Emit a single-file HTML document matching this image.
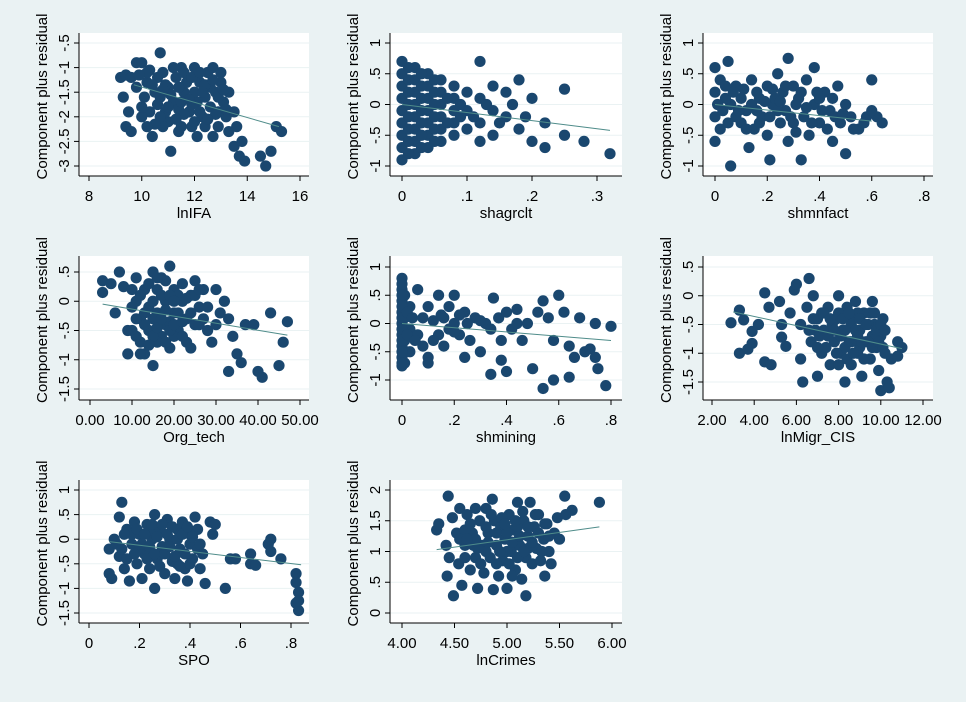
<!DOCTYPE html>
<html><head><meta charset="utf-8"><style>
html,body{margin:0;padding:0;background:#eaf2f3;}
svg{display:block;font-family:"Liberation Sans",Arial,sans-serif;}
</style></head><body>
<svg id="chart" width="966" height="702" viewBox="0 0 966 702" xmlns="http://www.w3.org/2000/svg">
<rect x="0" y="0" width="966" height="702" fill="#eaf2f3"/>
</svg>
<script>
// ---- data ----
const lnIFAPts=[[9.2,-1.2],[9.4,-1.15],[9.3,-1.6],[9.4,-2.2],[9.6,-2.3],[9.8,-0.9],[10.0,-0.9],[10.7,-0.7],[10.2,-1.3],[10.5,-1.5],[10.3,-1.9],[10.4,-2.4],[10.8,-1.1],[11.0,-1.4],[11.2,-1.7],[11.0,-2.1],[11.1,-2.7],[11.5,-1.0],[11.6,-1.5],[11.8,-1.9],[11.5,-2.2],[12.0,-1.0],[12.2,-1.3],[12.1,-1.7],[12.3,-2.0],[12.1,-2.4],[12.5,-1.1],[12.7,-1.0],[12.8,-1.5],[12.6,-1.8],[12.9,-2.2],[13.0,-1.3],[13.1,-1.7],[13.2,-2.0],[13.5,-1.9],[13.6,-2.2],[13.5,-2.6],[13.8,-2.5],[13.7,-2.8],[13.9,-2.9],[14.5,-2.8],[14.7,-3.0],[14.9,-2.7],[15.1,-2.2],[15.3,-2.3],[10.6,-1.2],[11.3,-1.2],[11.9,-2.2],[12.4,-1.6],[10.1,-1.6],[10.9,-1.9],[11.7,-1.3],[12.9,-1.9],[10.3,-1.05],[10.6,-1.75],[11.4,-1.85],[12.0,-1.5],[12.6,-1.4],[11.2,-1.0],[10.0,-2.0],[9.5,-1.9],[13.3,-1.5],[11.8,-1.65],[12.4,-2.2],[10.8,-2.2],
[10.2,-1.1],[10.4,-1.35],[10.7,-1.6],[10.9,-1.35],[11.1,-1.55],[11.4,-1.4],[11.6,-1.1],[11.9,-1.2],[12.2,-1.1],[12.4,-1.35],[12.7,-1.25],[12.9,-1.6],[13.1,-1.45],[13.2,-1.85],[12.8,-1.95],[12.5,-2.05],[12.2,-1.9],[11.9,-1.75],[11.6,-1.95],[11.3,-2.05],[11.0,-1.8],[10.7,-2.0],[10.5,-2.15],[10.2,-2.2],[10.0,-1.8],[9.8,-1.4],[9.6,-1.2],[11.4,-2.3],[12.7,-2.4],[13.3,-2.3],[12.0,-2.1],[10.8,-1.45],[11.5,-1.7],[12.3,-1.5],[13.0,-1.1],[9.9,-1.15]];
const shagrcltPts=[[0,0.7],[0,0.5],[0,0.3],[0,0.1],[0,-0.1],[0,-0.3],[0,-0.5],[0,-0.7],[0,-0.9],[0.02,0.6],[0.02,0.4],[0.02,0.2],[0.02,0],[0.02,-0.2],[0.02,-0.4],[0.02,-0.6],[0.02,-0.8],[0.04,0.5],[0.04,0.3],[0.04,0.1],[0.04,-0.1],[0.04,-0.3],[0.04,-0.5],[0.04,-0.7],[0.06,0.4],[0.06,0.2],[0.06,0],[0.06,-0.2],[0.06,-0.4],[0.06,-0.6],[0.08,0.3],[0.08,0.1],[0.08,-0.1],[0.08,-0.3],[0.08,-0.5],[0.1,0.2],[0.1,-0.1],[0.1,-0.4],[0.12,0.7],[0.12,0.1],[0.12,-0.3],[0.12,-0.6],[0.14,0.3],[0.14,-0.1],[0.14,-0.5],[0.16,0.2],[0.16,-0.2],[0.18,0.4],[0.18,-0.4],[0.2,0.1],[0.2,-0.6],[0.22,-0.3],[0.22,-0.7],[0.25,0.25],[0.25,-0.5],[0.28,-0.6],[0.32,-0.8],
[0.01,0.6],[0.01,0.4],[0.01,0.2],[0.01,0],[0.01,-0.2],[0.01,-0.4],[0.01,-0.6],[0.01,-0.8],[0.03,0.5],[0.03,0.3],[0.03,0.1],[0.03,-0.1],[0.03,-0.3],[0.03,-0.5],[0.03,-0.7],[0.05,0.4],[0.05,0.2],[0.05,0],[0.05,-0.2],[0.05,-0.4],[0.05,-0.6],[0.07,0.1],[0.07,-0.3],[0.09,0],[0.09,-0.2],[0.11,-0.2],[0.13,0],[0.15,-0.3],[0.17,0],[0.19,-0.2]];
const shmnfactPts=[[0,0.6],[0,0.2],[0,-0.2],[0,-0.6],[0.02,0.4],[0.02,-0.4],[0.05,0.7],[0.06,0],[0.06,-1],[0.08,0.3],[0.1,-0.3],[0.1,0.1],[0.12,-0.1],[0.13,-0.7],[0.14,0.4],[0.15,-0.4],[0.17,0.1],[0.18,-0.2],[0.2,0.3],[0.2,-0.5],[0.21,-0.9],[0.22,0],[0.24,0.5],[0.25,-0.3],[0.26,0.2],[0.27,-0.1],[0.28,-0.6],[0.3,0.3],[0.3,-0.3],[0.32,0.1],[0.33,-0.9],[0.34,-0.2],[0.35,0.4],[0.36,-0.5],[0.38,0],[0.38,0.6],[0.4,-0.3],[0.42,0.2],[0.44,-0.1],[0.45,-0.6],[0.47,0.3],[0.48,-0.3],[0.5,-0.8],[0.5,0],[0.52,-0.2],[0.55,-0.4],[0.58,-0.2],[0.6,0.4],[0.62,-0.2],[0.64,-0.3],[0.28,0.75],[0.04,0.1],[0.08,-0.2],[0.16,-0.1],[0.23,0.1],[0.31,0],[0.4,0.1],[0.46,-0.2],
[0.01,0],[0.03,-0.1],[0.04,0.3],[0.05,-0.3],[0.07,0.2],[0.09,-0.1],[0.11,0.25],[0.12,-0.4],[0.14,0],[0.16,0.2],[0.17,-0.3],[0.19,0.05],[0.21,-0.2],[0.22,0.25],[0.24,-0.1],[0.25,0.05],[0.27,0.3],[0.29,-0.2],[0.31,-0.45],[0.33,0.2],[0.35,-0.05],[0.37,-0.3],[0.39,0.2],[0.41,-0.1],[0.43,-0.4],[0.45,0.1],[0.49,-0.15],[0.53,-0.4],[0.57,-0.3],[0.6,-0.1]];
const orgTechPts=[[3,0.35],[3,0.15],[5,0.3],[7,0.5],[8,0.25],[6,-0.2],[9,-0.5],[9,-0.9],[11,0.4],[11,0],[12,-0.3],[12,-0.7],[13,0.2],[14,-0.1],[14,-0.5],[15,0.5],[15,-1.1],[16,0.2],[16,-0.2],[17,-0.6],[17,0.4],[18,0],[18,-0.4],[19,0.6],[19,-0.8],[20,0.2],[20,-0.2],[21,-0.5],[22,0.3],[22,0],[23,-0.3],[23,-0.7],[24,0.1],[25,0.35],[25,-0.4],[26,-0.1],[27,0.2],[28,-0.5],[29,-0.7],[30,0.2],[31,-0.2],[32,0],[33,-0.3],[33,-1.2],[34,-0.6],[35,-0.9],[36,-1.05],[37,-0.4],[39,-0.4],[40,-1.2],[41,-1.3],[43,-0.2],[45,-1.1],[46,-0.7],[47,-0.35],[10,-0.1],[13,-0.9],[21,0.1],[24,-0.8],[15,-0.3],[17,0.1],[19,-0.35],[13,-0.4],[16,-0.7],[20,-0.6],[26,-0.4],[18,0.35],
[10,0.2],[10,-0.5],[11,-0.3],[12,0.1],[13,-0.2],[14,0.3],[15,0],[15,-0.6],[16,-0.45],[17,-0.3],[18,-0.15],[18,-0.7],[19,0.1],[19,-0.5],[20,0],[20,-0.4],[21,-0.2],[22,-0.35],[22,-0.6],[23,0.05],[24,-0.2],[25,0.1],[26,0.2],[27,-0.3],[28,-0.1],[12,-0.9],[14,-0.75],[16,0.4],[11,-0.6],[30,-0.4]];
const shminingPts=[[0,0.8],[0,0.6],[0,0.4],[0,0.2],[0,0],[0,-0.2],[0,-0.4],[0,-0.6],[0,-0.75],[0.01,0.5],[0.01,0.1],[0.01,-0.3],[0.01,-0.7],[0.03,0.3],[0.03,-0.1],[0.03,-0.5],[0.06,0.6],[0.06,-0.2],[0.08,0.1],[0.08,-0.4],[0.1,-0.6],[0.1,-0.7],[0.1,0.3],[0.12,0.05],[0.14,0.5],[0.14,-0.2],[0.16,0.1],[0.16,-0.4],[0.18,0.3],[0.18,-0.1],[0.2,0.5],[0.2,0],[0.22,-0.2],[0.24,0.2],[0.24,-0.6],[0.26,-0.3],[0.28,0.1],[0.3,-0.5],[0.32,0],[0.34,-0.9],[0.35,0.45],[0.37,0.1],[0.38,-0.3],[0.38,-0.65],[0.4,0.2],[0.4,-0.85],[0.42,-0.1],[0.44,0.25],[0.46,-0.3],[0.48,0],[0.5,-0.8],[0.52,0.2],[0.54,-1.15],[0.54,0.4],[0.56,0.1],[0.58,-0.3],[0.58,-1.0],[0.6,0.5],[0.62,0.2],[0.64,-0.4],[0.64,-0.95],[0.66,-0.6],[0.68,0.1],[0.7,-0.5],[0.72,-0.45],[0.74,-0.6],[0.74,0],[0.75,-0.8],[0.78,-1.1],[0.8,-0.05],
[0,0.7],[0,0.5],[0,0.3],[0,0.1],[0,-0.1],[0,-0.3],[0,-0.5],[0,-0.7],[0.02,0.2],[0.02,-0.2],[0.04,0.1],[0.05,-0.3],[0.12,-0.3],[0.15,0.15],[0.2,-0.15],[0.22,0.15],[0.25,0],[0.3,0.05],[0.34,-0.1],[0.44,0]];
const lnMigrPts=[[2.9,-0.47],[3.3,-0.25],[3.3,-1],[3.5,-0.42],[3.7,-0.93],[3.9,-0.62],[3.9,-0.83],[4.2,-0.5],[4.5,0.05],[4.5,-1.15],[4.7,-0.2],[4.8,-1.2],[5.2,-0.1],[5.3,-0.5],[5.3,-0.72],[5.5,-0.88],[5.7,-0.3],[5.9,0.1],[6,0.2],[6.2,-0.5],[6.2,-1.1],[6.3,-1.5],[6.5,-0.2],[6.6,0.3],[6.7,-0.8],[6.8,0],[7,-0.4],[7,-1.4],[7.2,-1.0],[7.3,-0.6],[7.5,-0.2],[7.6,-1.2],[7.8,-0.8],[7.9,-0.4],[8,0],[8.1,-1.0],[8.2,-0.6],[8.3,-1.5],[8.4,-0.2],[8.5,-0.8],[8.6,-1.2],[8.7,-0.4],[8.8,-0.1],[8.9,-1.0],[9,-0.6],[9.1,-1.4],[9.2,-0.3],[9.3,-0.8],[9.5,-1.1],[9.6,-0.1],[9.7,-0.5],[9.8,-0.9],[9.9,-1.3],[10,-1.65],[10,-0.7],[10.2,-1.0],[10.3,-1.5],[10.4,-1.6],[10.5,-1.1],[10.8,-0.8],[10.8,-1.05],[11,-0.9],[7.4,-0.9],[8.6,-0.5],[9.4,-0.5],[7.7,-0.5],[8.0,-1.2],[6.9,-0.6],[8.3,-0.9],[9.0,-0.9],[9.6,-0.7],[7.2,-0.3],[8.9,-0.3],[10.1,-0.4],
[7.1,-0.7],[7.3,-0.3],[7.5,-0.7],[7.6,-0.4],[7.8,-0.6],[7.9,-1.0],[8.0,-0.3],[8.1,-0.7],[8.2,-0.4],[8.3,-0.6],[8.4,-1.1],[8.5,-0.3],[8.6,-0.8],[8.7,-1.0],[8.8,-0.6],[8.9,-0.7],[9.0,-0.4],[9.1,-0.8],[9.2,-1.1],[9.3,-0.5],[9.4,-0.8],[9.5,-0.3],[9.6,-0.9],[9.7,-0.3],[9.8,-0.6],[9.9,-0.8],[10.0,-0.5],[10.1,-0.9],[10.2,-0.6],[6.8,-0.4],[6.6,-0.6],[7.0,-0.9]];
const spoPts=[[0.08,-0.2],[0.08,-0.7],[0.09,-0.8],[0.1,0],[0.12,-0.35],[0.13,0.75],[0.12,0.45],[0.14,-0.6],[0.15,0.2],[0.16,-0.85],[0.17,-0.1],[0.18,0.35],[0.19,-0.5],[0.2,0.1],[0.21,-0.8],[0.22,-0.3],[0.23,0.3],[0.24,-0.6],[0.25,0],[0.26,0.5],[0.26,-1],[0.27,-0.4],[0.28,0.2],[0.29,-0.15],[0.3,-0.7],[0.31,0.4],[0.32,0],[0.33,-0.45],[0.34,-0.8],[0.35,0.2],[0.36,-0.2],[0.37,0.35],[0.38,-0.6],[0.39,-0.85],[0.4,-0.1],[0.41,-0.4],[0.42,0.45],[0.43,0.2],[0.44,-0.6],[0.45,-0.3],[0.46,-0.9],[0.48,0.35],[0.49,0.1],[0.5,0.3],[0.54,-1],[0.56,-0.4],[0.58,-0.4],[0.64,-0.3],[0.64,-0.5],[0.66,-0.53],[0.71,-0.1],[0.72,-0.25],[0.72,0],[0.76,-0.4],[0.82,-0.7],[0.82,-0.88],[0.83,-1.08],[0.82,-1.3],[0.83,-1.45],[0.83,-1.25],[0.2,-0.2],[0.28,-0.3],[0.35,-0.5],[0.24,0.15],[0.4,0.1],
[0.11,-0.1],[0.13,-0.2],[0.15,-0.4],[0.17,0.1],[0.18,-0.3],[0.19,0.2],[0.21,-0.1],[0.22,0.1],[0.23,-0.4],[0.24,-0.15],[0.25,0.3],[0.26,-0.3],[0.27,0.05],[0.28,-0.55],[0.29,0.3],[0.3,-0.3],[0.31,0.1],[0.32,-0.15],[0.33,0.25],[0.34,-0.35],[0.35,0],[0.36,-0.55],[0.37,0.1],[0.38,-0.3],[0.39,0.25],[0.4,-0.5],[0.41,0.05],[0.43,-0.2],[0.44,-0.1],[0.14,0.1]];
const lnCrimesPts=[[4.33,1.35],[4.35,1.45],[4.42,1.1],[4.43,0.6],[4.44,1.9],[4.45,0.9],[4.48,1.55],[4.49,0.28],[4.52,1.3],[4.54,0.8],[4.55,1.7],[4.57,0.45],[4.6,1.1],[4.62,1.6],[4.65,0.7],[4.67,1.3],[4.7,0.9],[4.72,0.4],[4.74,1.5],[4.76,1.1],[4.78,0.65],[4.8,1.7],[4.82,1.3],[4.84,0.9],[4.86,1.85],[4.87,0.38],[4.88,1.5],[4.9,1.1],[4.92,0.6],[4.94,1.4],[4.96,0.85],[4.98,1.2],[5.0,0.4],[5.02,1.6],[5.04,1.0],[5.06,1.35],[5.08,0.7],[5.1,1.8],[5.12,1.1],[5.14,0.55],[5.16,1.5],[5.18,0.28],[5.18,0.9],[5.2,1.25],[5.22,1.8],[5.24,0.8],[5.26,1.4],[5.28,1.05],[5.3,1.6],[5.32,0.85],[5.35,1.2],[5.36,0.6],[5.38,1.45],[5.4,1.0],[5.42,0.8],[5.45,1.3],[5.48,1.55],[5.5,1.2],[5.55,1.9],[5.56,1.6],[5.62,1.67],[5.88,1.8],[4.7,1.7],[5.0,1.0],[4.9,0.8],[5.1,1.4],[4.6,1.35],[4.8,1.0],[5.2,1.05],[4.68,1.1],
[4.55,1.2],[4.6,0.9],[4.65,1.45],[4.7,1.2],[4.75,0.8],[4.8,1.4],[4.82,1.15],[4.85,1.6],[4.9,1.3],[4.93,1.0],[4.95,1.55],[5.0,1.3],[5.02,0.8],[5.05,1.15],[5.08,1.5],[5.1,0.9],[5.12,1.25],[5.15,1.65],[5.16,1.0],[5.2,1.4],[5.24,1.15],[5.27,1.6],[5.3,1.3],[5.33,1.0],[5.36,1.45],[5.4,1.25],[4.62,1.2],[4.72,1.05],[4.98,1.45],[5.05,0.6]];
// fitted lines [x0,y0,x1,y1]
const lnIFAFit=[9.7,-1.35,15.2,-2.2];
const shagrcltFit=[0,0,0.32,-0.42];
const shmnfactFit=[0,0,0.6,-0.27];
const orgTechFit=[3,-0.05,47,-0.58];
const shminingFit=[0,0,0.8,-0.3];
const lnMigrFit=[3,-0.28,11,-0.92];
const spoFit=[0.08,-0.05,0.84,-0.52];
const lnCrimesFit=[4.33,1.03,5.88,1.4];
// tick labels
const lnIFAXTicks=["8","10","12","14","16"], lnIFAYTicks=["-3","-2.5","-2","-1.5","-1","-.5"];
const shagrcltXTicks=["0",".1",".2",".3"], shagrcltYTicks=["-1","-.5","0",".5","1"];
const shmnfactXTicks=["0",".2",".4",".6",".8"], shmnfactYTicks=["-1","-.5","0",".5","1"];
const orgTechXTicks=["0.00","10.00","20.00","30.00","40.00","50.00"], orgTechYTicks=["-1.5","-1","-.5","0",".5"];
const shminingXTicks=["0",".2",".4",".6",".8"], shminingYTicks=["-1","-.5","0",".5","1"];
const lnMigrXTicks=["2.00","4.00","6.00","8.00","10.00","12.00"], lnMigrYTicks=["-1.5","-1","-.5","0",".5"];
const spoXTicks=["0",".2",".4",".6",".8"], spoYTicks=["-1.5","-1","-.5","0",".5","1"];
const lnCrimesXTicks=["4.00","4.50","5.00","5.50","6.00"], lnCrimesYTicks=["0",".5","1","1.5","2"];

// ---- layout ----
const panels=[
 {name:"lnifa",title:"lnIFA",pts:lnIFAPts,fit:lnIFAFit,xt:lnIFAXTicks,yt:lnIFAYTicks,L:79,R:309,T:33,B:176,xp:[89,300],yp:[166,43]},
 {name:"shagrclt",title:"shagrclt",pts:shagrcltPts,fit:shagrcltFit,xt:shagrcltXTicks,yt:shagrcltYTicks,L:390,R:622,T:33,B:176,xp:[402,597],yp:[166,43]},
 {name:"shmnfact",title:"shmnfact",pts:shmnfactPts,fit:shmnfactFit,xt:shmnfactXTicks,yt:shmnfactYTicks,L:703,R:933,T:33,B:176,xp:[715,924],yp:[166,43]},
 {name:"org-tech",title:"Org_tech",pts:orgTechPts,fit:orgTechFit,xt:orgTechXTicks,yt:orgTechYTicks,L:79,R:309,T:256,B:400,xp:[90,300],yp:[389,272]},
 {name:"shmining",title:"shmining",pts:shminingPts,fit:shminingFit,xt:shminingXTicks,yt:shminingYTicks,L:390,R:622,T:256,B:400,xp:[402,611],yp:[380,267]},
 {name:"lnmigr-cis",title:"lnMigr_CIS",pts:lnMigrPts,fit:lnMigrFit,xt:lnMigrXTicks,yt:lnMigrYTicks,L:703,R:933,T:256,B:400,xp:[712,923],yp:[382,267]},
 {name:"spo",title:"SPO",pts:spoPts,fit:spoFit,xt:spoXTicks,yt:spoYTicks,L:79,R:309,T:480,B:623,xp:[89,291],yp:[613,490]},
 {name:"lncrimes",title:"lnCrimes",pts:lnCrimesPts,fit:lnCrimesFit,xt:lnCrimesXTicks,yt:lnCrimesYTicks,L:390,R:622,T:480,B:623,xp:[402,612],yp:[613,490]}
];
const NS="http://www.w3.org/2000/svg";
const svg=document.getElementById("chart");
function mk(tag,attrs,parent){const e=document.createElementNS(NS,tag);for(const k in attrs)e.setAttribute(k,attrs[k]);parent.appendChild(e);return e;}
panels.forEach(p=>{
  const g=mk("g",{},svg);
  
  
  const x0=parseFloat(p.xt[0]),x1=parseFloat(p.xt[p.xt.length-1]);
  const y0=parseFloat(p.yt[0]),y1=parseFloat(p.yt[p.yt.length-1]);
  const sx=v=>p.xp[0]+(v-x0)/(x1-x0)*(p.xp[1]-p.xp[0]);
  const sy=v=>p.yp[0]+(v-y0)/(y1-y0)*(p.yp[1]-p.yp[0]);
  const bg=mk("rect",{x:p.L,y:p.T,width:p.R-p.L,height:p.B-p.T,fill:"#ffffff"},g);
  
  
  p.yt.forEach(t=>{
    const y=sy(parseFloat(t));
    const gl=mk("line",{x1:p.L,x2:p.R,y1:y,y2:y,stroke:"#eaf2f3","stroke-width":1},g);
    
    
    mk("line",{x1:p.L-5,x2:p.L,y1:y,y2:y,stroke:"#000","stroke-width":1},g);
    const tx=mk("text",{x:p.L-10,y:y,"font-size":15,"text-anchor":"middle",transform:`rotate(-90 ${p.L-10} ${y})`,fill:"#000"},g);
    tx.textContent=t;
    
    
  });
  p.xt.forEach(t=>{
    const x=sx(parseFloat(t));
    mk("line",{x1:x,x2:x,y1:p.B,y2:p.B+5,stroke:"#000","stroke-width":1},g);
    const tx=mk("text",{x:x,y:p.B+25,"font-size":15,"text-anchor":"middle",fill:"#000"},g);
    tx.textContent=t;
    
    
  });
  p.pts.forEach(d=>{
    const c=mk("circle",{cx:sx(d[0]),cy:sy(d[1]),r:5.6,fill:"#1a476f"},g);
    
    
  });
  const fl=mk("line",{x1:sx(p.fit[0]),y1:sy(p.fit[1]),x2:sx(p.fit[2]),y2:sy(p.fit[3]),stroke:"#4f8c8a","stroke-width":1},g);
  
  
  mk("line",{x1:p.L,x2:p.L,y1:p.T,y2:p.B,stroke:"#000","stroke-width":1},g);
  mk("line",{x1:p.L,x2:p.R,y1:p.B,y2:p.B,stroke:"#000","stroke-width":1},g);
  const xt=mk("text",{x:(p.L+p.R)/2,y:p.B+42,"font-size":15,"text-anchor":"middle",fill:"#000"},g);
  xt.textContent=p.title;
  
  
  const cy=(p.T+p.B)/2-8, cx=p.L-32;
  const yt=mk("text",{x:cx,y:cy,"font-size":15,"text-anchor":"middle",transform:`rotate(-90 ${cx} ${cy})`,fill:"#000"},g);
  yt.textContent="Component plus residual";
  
  
});
</script>
</body></html>
